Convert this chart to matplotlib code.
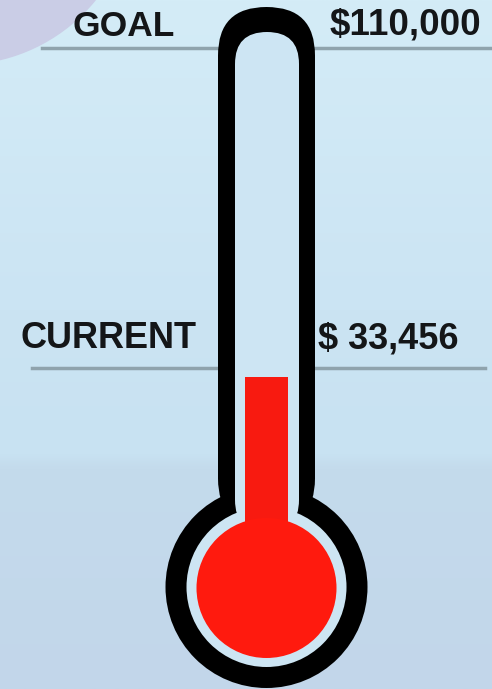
import numpy as np
import matplotlib
matplotlib.use("Agg")
import matplotlib.pyplot as plt
from matplotlib.patches import Circle, FancyBboxPatch
from matplotlib.transforms import Affine2D, offset_copy
from matplotlib.colors import LinearSegmentedColormap

# data
labels = ["GOAL", "CURRENT"]
values = [110000, 33456]
value_texts = ["$110,000", "$ 33,456"]

W, H = 492, 689
goal_px, zero_px = 48, 521   # pixel rows where the goal and 0 sit on the scale

fig = plt.figure(figsize=(W / 100, H / 100), dpi=100)
ax = fig.add_axes([0, 0, 1, 1])
ax.set_axis_off()

# x in pixels, y in dollars (0 at top of bulb, goal at the goal line)
per_px = values[0] / (zero_px - goal_px)
ax.set_xlim(0, W)
ax.set_ylim((zero_px - H) * per_px, zero_px * per_px)

# pixel transform for the drawing itself (origin top-left)
pix = Affine2D().scale(1 / W, -1 / H).translate(0, 1) + ax.transAxes

# background
bg = LinearSegmentedColormap.from_list(
    "bg", [(0, "#d4ecf7"), (0.45, "#cbe4f3"), (0.66, "#c8e2f2"),
           (0.68, "#c4dbec"), (1, "#c2d6ea")])
grad = np.linspace(0, 1, 256).reshape(-1, 1)
ax.imshow(grad, cmap=bg, aspect="auto", extent=(0, 1, 0, 1),
          transform=ax.transAxes, zorder=0)
ax.add_patch(Circle((-40, -110), 175, color="#cacde6", lw=0, transform=pix, zorder=0.5))

# goal / current lines
line_col = "#8fa3ad"
ax.plot([42, 492], [values[0], values[0]], color=line_col, lw=2.5, zorder=1)
ax.plot([32, 485], [values[1], values[1]], color=line_col, lw=2.5, zorder=1,
        transform=offset_copy(ax.transData, fig=fig, y=9, units="dots"))

# thermometer outline
cx = 266.5
ax.add_patch(Circle((cx, 587), 101, color="black", lw=0, transform=pix, zorder=2))
ax.add_patch(FancyBboxPatch((218, 7), 97, 520, boxstyle="round,pad=0,rounding_size=48.5",
                            color="black", lw=0, transform=pix, zorder=2))
inner = "#cde5f3"
ax.add_patch(Circle((cx, 587), 80, color=inner, lw=0, transform=pix, zorder=3))
ax.add_patch(FancyBboxPatch((235, 32), 64, 500, boxstyle="round,pad=0,rounding_size=32",
                            color=inner, lw=0, transform=pix, zorder=3))

# mercury
red = "#f81a10"
ax.bar(cx, values[1], width=43, bottom=0, color=red, zorder=4)
ax.bar(cx, 6 * per_px, width=43, bottom=-5 * per_px, color=red, zorder=4)
ax.add_patch(Circle((cx, 588), 70, color="#ff1a0e", lw=0, transform=pix, zorder=4))

# texts
font = dict(family="Liberation Sans", fontweight="bold",
            color="#141618", transform=pix, va="baseline", zorder=5)
ax.text(72, 36, labels[0], fontsize=25.5, **font)
ax.text(330, 35, value_texts[0], fontsize=26.5, **font)
ax.text(20, 348, labels[1], fontsize=26, **font)
ax.text(318, 348, value_texts[1], fontsize=26, **font)

fig.savefig("out.png", dpi=100)
